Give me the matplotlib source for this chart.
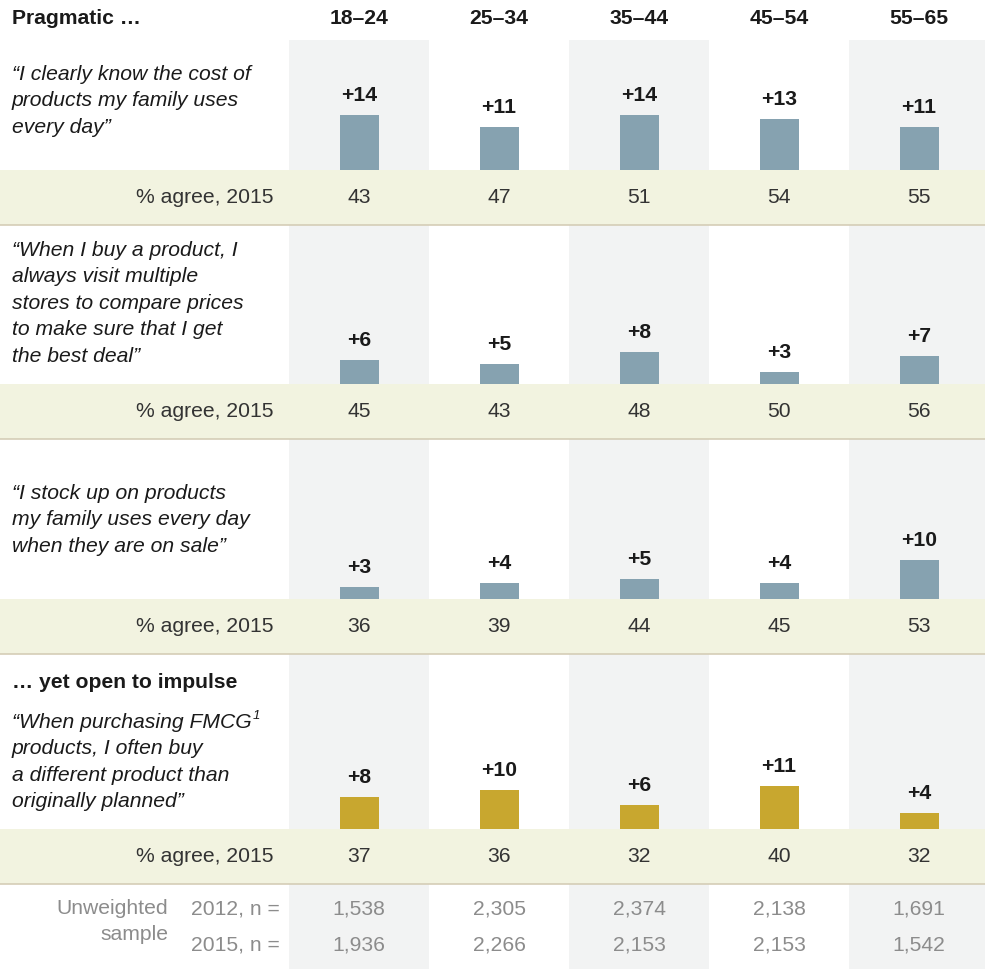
import matplotlib
matplotlib.use("Agg")
import matplotlib.pyplot as plt
from matplotlib.patches import Rectangle

plt.rcParams['font.family'] = ['Liberation Sans', 'DejaVu Sans']

# ---- data -------------------------------------------------------------
age_groups = ["18–24", "25–34", "35–44", "45–54", "55–65"]

statements = [
    ["“I clearly know the cost of", "products my family uses", "every day”"],
    ["“When I buy a product, I", "always visit multiple", "stores to compare prices",
     "to make sure that I get", "the best deal”"],
    ["“I stock up on products", "my family uses every day", "when they are on sale”"],
    ["“When purchasing FMCG", "products, I often buy", "a different product than",
     "originally planned”"],
]

change_cost = [14, 11, 14, 13, 11]
change_stores = [6, 5, 8, 3, 7]
change_stock = [3, 4, 5, 4, 10]
change_impulse = [8, 10, 6, 11, 4]

agree_cost = [43, 47, 51, 54, 55]
agree_stores = [45, 43, 48, 50, 56]
agree_stock = [36, 39, 44, 45, 53]
agree_impulse = [37, 36, 32, 40, 32]

sample_2012 = ["1,538", "2,305", "2,374", "2,138", "1,691"]
sample_2015 = ["1,936", "2,266", "2,153", "2,153", "1,542"]

# ---- layout (pixels) --------------------------------------------------
W, H = 985, 969
col_left = 289
col_w = 140
centers = [col_left + col_w / 2 + col_w * i for i in range(5)]
px_per_pt = 3.95

rows = [
    dict(change=change_cost, agree=agree_cost, color="#86a2b0",
         band=(170, 225), text_y=74),
    dict(change=change_stores, agree=agree_stores, color="#86a2b0",
         band=(384, 439), text_y=250),
    dict(change=change_stock, agree=agree_stock, color="#86a2b0",
         band=(599, 654), text_y=493),
    dict(change=change_impulse, agree=agree_impulse, color="#c8a72f",
         band=(829, 884), text_y=722),
]

shade = "#f2f3f3"
band_color = "#f2f3e0"
line_color = "#d5cdb6"
dark = "#1a1a1a"
num_color = "#333333"
gray = "#8c8c8c"
fs = 15.2

fig = plt.figure(figsize=(W / 100, H / 100), dpi=100)
ax = fig.add_axes([0, 0, 1, 1])
ax.set_xlim(0, W)
ax.set_ylim(H, 0)
ax.axis("off")

# alternating shaded columns
for i in range(0, 5, 2):
    ax.add_patch(Rectangle((col_left + col_w * i, 40), col_w, H - 40,
                           facecolor=shade, edgecolor="none", zorder=0))

# header
ax.text(12, 18, "Pragmatic …", fontsize=fs, fontweight="bold", color=dark,
        va="center", ha="left")
for c, g in zip(centers, age_groups):
    ax.text(c, 18, g, fontsize=fs, fontweight="bold", color=dark,
            va="center", ha="center")

line_step = 26.6
for r, lines in zip(rows, statements):
    top, bot = r["band"]
    ax.add_patch(Rectangle((0, top), W, bot - top, facecolor=band_color,
                           edgecolor="none", zorder=1))
    ax.plot([0, W], [bot, bot], color=line_color, lw=1.2, zorder=2)
    mid = (top + bot) / 2
    ax.text(274, mid, "% agree, 2015", fontsize=fs, color=num_color,
            ha="right", va="center", zorder=3)
    for c, v in zip(centers, r["agree"]):
        ax.text(c, mid, str(v), fontsize=fs, color=num_color,
                ha="center", va="center", zorder=3)
    for k, ln in enumerate(lines):
        t = ax.text(12, r["text_y"] + k * line_step, ln, fontsize=fs,
                    style="italic", color=dark, ha="left", va="center")
        if ln.endswith("FMCG"):
            ax.annotate("1", xy=(1, 1), xycoords=t, xytext=(1, 2),
                        textcoords="offset points", fontsize=9.5,
                        style="italic", color=dark, ha="left", va="top")

    # bar panel for this row, in percentage-point units
    panel_h = 110
    bax = fig.add_axes([col_left / W, (H - top) / H, 5 * col_w / W, panel_h / H])
    bax.set_xlim(-0.5, 4.5)
    bax.set_ylim(0, panel_h / px_per_pt)
    bax.axis("off")
    bax.patch.set_alpha(0)
    bax.bar(range(5), r["change"], width=39 / col_w, color=r["color"],
            zorder=2)
    for i, v in enumerate(r["change"]):
        bax.annotate(f"+{v}", xy=(i, v), xytext=(0, 14),
                     textcoords="offset pixels", ha="center", va="baseline",
                     fontsize=fs, fontweight="bold", color=dark)

ax.text(12, 682, "… yet open to impulse", fontsize=fs, fontweight="bold",
        color=dark, ha="left", va="center")

# sample sizes
ax.text(168, 909, "Unweighted", fontsize=fs, color=gray, ha="right",
        va="center")
ax.text(168, 934, "sample", fontsize=fs, color=gray, ha="right",
        va="center")
ax.text(280, 909, "2012, n =", fontsize=fs, color=gray, ha="right",
        va="center")
ax.text(280, 945, "2015, n =", fontsize=fs, color=gray, ha="right",
        va="center")
for c, a, b in zip(centers, sample_2012, sample_2015):
    ax.text(c, 909, a, fontsize=fs, color=gray, ha="center", va="center")
    ax.text(c, 945, b, fontsize=fs, color=gray, ha="center", va="center")

fig.savefig("out.png", dpi=100)
